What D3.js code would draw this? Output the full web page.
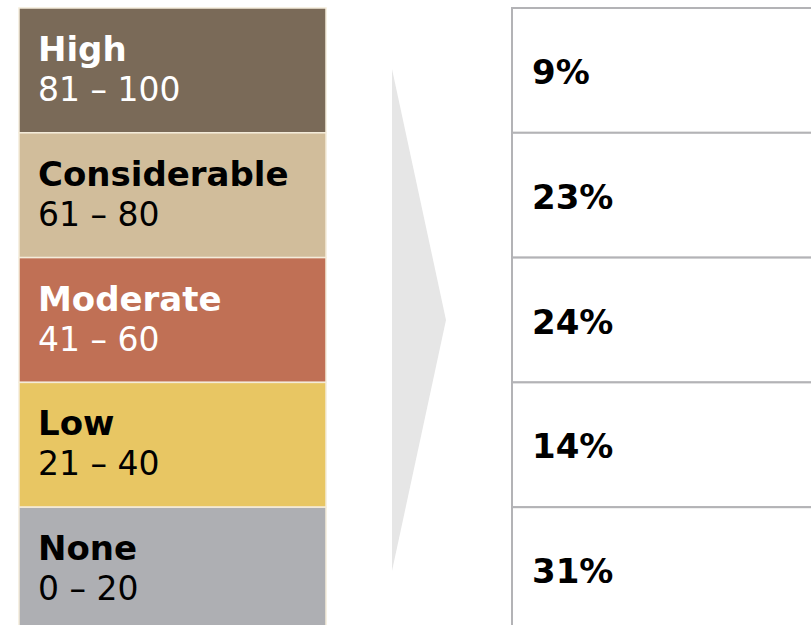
<!DOCTYPE html>
<html><head><meta charset="utf-8">
<script src="https://cdn.jsdelivr.net/npm/d3@7"></script>
<style>body{margin:0;background:#fff}svg{display:block}</style>
</head><body>
<svg id="c" width="811" height="625"></svg>
<script>
const categories = ["High", "Considerable", "Moderate", "Low", "None"];
const ranges = ["81 – 100", "61 – 80", "41 – 60", "21 – 40", "0 – 20"];
const shares = [9, 23, 24, 14, 31];
const colors = ["#7a6a58", "#d1bd9b", "#c07055", "#e8c663", "#aeafb3"];
const textColors = ["#ffffff", "#000000", "#ffffff", "#000000", "#000000"];

const svg = d3.select("#c");
const font = "'DejaVu Sans', sans-serif";
const y = d3.scaleBand().domain(categories).range([8, 632]).padding(0);
const bh = y.bandwidth();

// arrow
svg.append("path")
  .attr("d", `M392,69 L446,320 L392,571 Z`)
  .attr("fill", "#e6e6e6");

// left boxes
const left = svg.append("g");
left.selectAll("rect").data(categories).join("rect")
  .attr("x", 19).attr("y", d => y(d))
  .attr("width", 307).attr("height", bh)
  .attr("fill", (d, i) => colors[i])
  .attr("stroke", "#f4ecda").attr("stroke-width", 1.5);
left.selectAll("text.lab").data(categories).join("text").attr("class", "lab")
  .attr("x", 38).attr("y", d => y(d) + 53)
  .attr("font-family", font).attr("font-weight", 700).attr("font-size", 34)
  .attr("fill", (d, i) => textColors[i]).text(d => d);
left.selectAll("text.rng").data(categories).join("text").attr("class", "rng")
  .attr("x", 38).attr("y", d => y(d) + 93)
  .attr("font-family", font).attr("font-weight", 400).attr("font-size", 33)
  .attr("fill", (d, i) => textColors[i]).text((d, i) => ranges[i]);

// right boxes
const right = svg.append("g");
right.selectAll("rect").data(categories).join("rect")
  .attr("x", 512).attr("y", d => y(d))
  .attr("width", 320).attr("height", bh)
  .attr("fill", "#fff")
  .attr("stroke", "#b3b3b6").attr("stroke-width", 2);
right.selectAll("text").data(categories).join("text")
  .attr("x", 532).attr("y", d => y(d) + 76)
  .attr("font-family", font).attr("font-weight", 700).attr("font-size", 34)
  .attr("fill", "#000").text((d, i) => shares[i] + "%");
</script>
</body></html>
